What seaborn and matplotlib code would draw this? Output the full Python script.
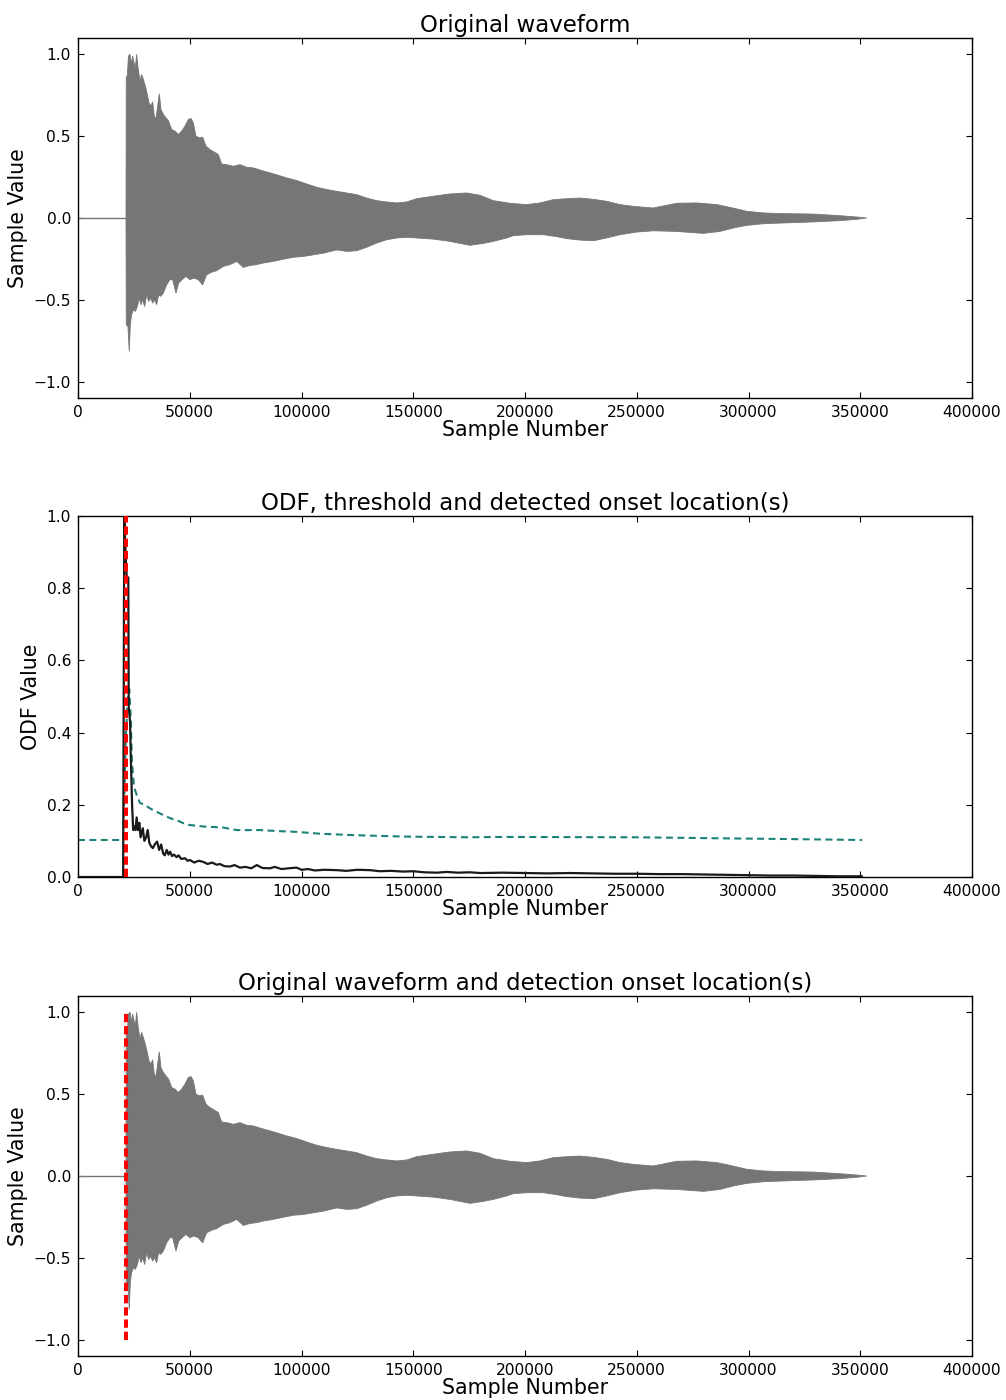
import numpy as np
import matplotlib
matplotlib.use("Agg")
import matplotlib.pyplot as plt
import seaborn as sns

# ---------------- data ----------------
onset_sample = 21500
n_samples = 352900

# upper envelope of the waveform
wave_up_x = [21477, 21600, 22000, 22600, 23266, 23860, 24460, 25050, 25650, 26250,
             26850, 27740, 28490, 29230, 30130, 31020, 31770, 32510, 33400, 34150,
             34900, 35640, 36390, 37130, 38180, 39370, 40560, 41900, 43390, 44880,
             46370, 47860, 49350, 50550, 51590, 52790, 54280, 55770, 57270, 59060,
             60850, 62780, 64270, 66510, 69500, 72480, 75460, 78440, 82170, 85900,
             89630, 93360, 97840, 102310, 106780, 111260, 115740, 120210, 124690, 129160,
             133640, 138110, 142590, 147060, 151530, 158980, 166440, 173900, 179860, 185830,
             193290, 200750, 206710, 212680, 218650, 224610, 230580, 236550, 242520, 248480,
             257430, 267870, 276820, 285770, 291740, 299200, 306660, 314120, 329030, 340960,
             348420, 352900]
wave_up = [0.0, 0.867, 0.857, 0.99, 1.0, 0.94, 0.99, 0.95, 0.918, 1.0,
           0.918, 0.837, 0.877, 0.847, 0.806, 0.755, 0.704, 0.684, 0.71, 0.622,
           0.608, 0.684, 0.759, 0.663, 0.633, 0.612, 0.592, 0.541, 0.531, 0.51,
           0.531, 0.561, 0.602, 0.608, 0.582, 0.5, 0.49, 0.494, 0.439, 0.418,
           0.404, 0.388, 0.33, 0.326, 0.316, 0.326, 0.31, 0.306, 0.29, 0.276,
           0.261, 0.245, 0.229, 0.208, 0.188, 0.174, 0.163, 0.153, 0.143, 0.122,
           0.106, 0.098, 0.092, 0.098, 0.118, 0.133, 0.147, 0.153, 0.139, 0.106,
           0.09, 0.082, 0.092, 0.112, 0.118, 0.122, 0.114, 0.102, 0.082, 0.071,
           0.061, 0.09, 0.092, 0.082, 0.065, 0.041, 0.031, 0.027, 0.024, 0.014,
           0.006, 0.0]

# lower envelope of the waveform
wave_lo_x = [21477, 21600, 22350, 22940, 23400, 23960, 24760, 25650, 26550, 27440,
             28190, 28930, 29830, 30720, 31620, 32510, 33400, 34300, 35190, 36090,
             36980, 38180, 39670, 41160, 42350, 43840, 45040, 46530, 48320, 50110,
             51900, 53840, 55770, 57560, 59800, 62040, 65020, 68000, 70990, 73970,
             76950, 79930, 82920, 87390, 91870, 96340, 100820, 105290, 109770, 115740,
             120210, 124690, 129160, 133640, 138110, 142590, 147060, 151530, 158980, 166440,
             175390, 181350, 185830, 191800, 194780, 200750, 208210, 214170, 218650, 224610,
             230580, 236550, 242520, 249970, 257430, 267870, 279790, 287260, 293220, 299200,
             306660, 314120, 329030, 340960, 348420, 352900]
wave_lo = [0.0, -0.653, -0.663, -0.816, -0.653, -0.592, -0.561, -0.571, -0.541, -0.49,
           -0.53, -0.5, -0.541, -0.469, -0.51, -0.49, -0.52, -0.5, -0.53, -0.469,
           -0.479, -0.459, -0.408, -0.377, -0.377, -0.459, -0.398, -0.377, -0.357, -0.377,
           -0.367, -0.377, -0.408, -0.347, -0.331, -0.322, -0.296, -0.285, -0.265, -0.302,
           -0.29, -0.285, -0.275, -0.265, -0.252, -0.24, -0.235, -0.225, -0.215, -0.195,
           -0.204, -0.2, -0.179, -0.153, -0.133, -0.122, -0.118, -0.122, -0.129, -0.143,
           -0.167, -0.155, -0.143, -0.122, -0.108, -0.102, -0.102, -0.114, -0.126, -0.135,
           -0.139, -0.122, -0.102, -0.086, -0.078, -0.082, -0.094, -0.082, -0.061, -0.045,
           -0.035, -0.031, -0.024, -0.016, -0.008, 0.0]

# onset detection function
odf_x = [0, 20200, 20700, 21400, 21800, 22500, 22700, 23300, 23600, 24200,
         24700, 25100, 25700, 26250, 26800, 27450, 28000, 28980, 29700, 30500,
         31200, 31900, 32700, 33500, 34300, 35400, 36300, 37200, 38100, 38800,
         39700, 40500, 41200, 42100, 43000, 44100, 45000, 46200, 47900, 49000,
         50100, 52000, 54000, 56000, 58000, 60000, 62000, 63500, 65500, 68000,
         70000, 72500, 75000, 77500, 80000, 82500, 85900, 88000, 91000, 94000,
         97800, 100000, 103000, 106000, 110000, 115700, 120000, 125000, 130600, 135000,
         140000, 145500, 150000, 155000, 160500, 165000, 170000, 175400, 180000, 190000,
         200000, 210000, 220000, 230000, 240000, 250000, 260000, 270000, 280000, 290000,
         300000, 310000, 320000, 330000, 340000, 350800]
odf_y = [0.0, 0.0, 1.0, 0.88, 0.83, 0.83, 0.47, 0.43, 0.34, 0.2,
         0.13, 0.14, 0.13, 0.165, 0.13, 0.15, 0.11, 0.135, 0.10, 0.11,
         0.13, 0.095, 0.085, 0.08, 0.09, 0.098, 0.075, 0.09, 0.065, 0.06,
         0.075, 0.062, 0.07, 0.058, 0.062, 0.055, 0.06, 0.05, 0.052, 0.045,
         0.047, 0.04, 0.045, 0.042, 0.036, 0.04, 0.034, 0.036, 0.03, 0.029,
         0.033, 0.026, 0.028, 0.024, 0.033, 0.025, 0.024, 0.028, 0.022, 0.024,
         0.026, 0.02, 0.022, 0.018, 0.02, 0.019, 0.017, 0.02, 0.019, 0.016,
         0.017, 0.015, 0.016, 0.013, 0.012, 0.014, 0.012, 0.013, 0.011, 0.012,
         0.011, 0.010, 0.011, 0.010, 0.009, 0.009, 0.008, 0.008, 0.007, 0.006,
         0.005, 0.004, 0.004, 0.003, 0.002, 0.002]

# adaptive threshold
thr_x = [0, 20300, 20800, 21500, 22300, 22960, 23560, 24160, 25060, 26000,
         27740, 30000, 32210, 36000, 41160, 45000, 48620, 56000, 65000, 71000,
         81400, 90000, 97800, 108000, 123000, 145500, 175000, 190000, 250000, 290000,
         320000, 350800]
thr_y = [0.1025, 0.1025, 0.25, 0.40, 0.50, 0.52, 0.444, 0.315, 0.25, 0.232,
         0.205, 0.20, 0.19, 0.178, 0.163, 0.155, 0.145, 0.14, 0.137, 0.13,
         0.13, 0.127, 0.125, 0.12, 0.116, 0.112, 0.11, 0.111, 0.11, 0.107,
         0.105, 0.1025]

x_ticks = [0, 50000, 100000, 150000, 200000, 250000, 300000, 350000, 400000]
wave_yticks = [-1.0, -0.5, 0.0, 0.5, 1.0]
odf_yticks = [0.0, 0.2, 0.4, 0.6, 0.8, 1.0]

# ---------------- styling ----------------
sns.set_theme(style="white")
plt.rcParams.update({
    "font.family": ["DejaVu Sans"],
    "text.color": "black", "axes.labelcolor": "black", "axes.titlecolor": "black",
    "xtick.direction": "in", "ytick.direction": "in",
    "xtick.top": True, "ytick.right": True,
    "xtick.bottom": True, "ytick.left": True,
    "xtick.major.size": 4, "ytick.major.size": 4,
    "xtick.major.width": 0.8, "ytick.major.width": 0.8,
    "xtick.color": "black", "ytick.color": "black",
    "xtick.labelcolor": "black", "ytick.labelcolor": "black",
    "axes.edgecolor": "black", "axes.linewidth": 1.0,
    "lines.scale_dashes": False,
})

WAVE_COLOR = "#767676"
TEAL = "#1a8279"
TICK_FS = 11.2
LABEL_FS = 14.8
TITLE_FS = 16.5

fig = plt.figure(figsize=(10.06, 14.0), dpi=100)
left, width = 78 / 1006, 894 / 1006


def make_ax(top_px, bottom_px):
    return fig.add_axes([left, 1 - bottom_px / 1400, width, (bottom_px - top_px) / 1400])


ax1 = make_ax(38, 398)
ax2 = make_ax(516, 877)
ax3 = make_ax(996, 1356)


def draw_wave(ax):
    poly_x = list(wave_up_x) + list(wave_lo_x[::-1])
    poly_y = list(wave_up) + list(wave_lo[::-1])
    ax.fill(poly_x, poly_y, color=WAVE_COLOR, lw=0.6, ec=WAVE_COLOR, zorder=2)
    sns.lineplot(x=[0, onset_sample], y=[0.0, 0.0], ax=ax, color=WAVE_COLOR,
                 lw=1.0, estimator=None, sort=False, zorder=2)


def style_ax(ax, yticks, ylim, title, ylabel, yfmt):
    ax.set_xlim(0, 400000)
    ax.set_ylim(*ylim)
    ax.set_xticks(x_ticks)
    ax.set_xticklabels([str(t) for t in x_ticks], fontsize=TICK_FS, color="black")
    ax.set_yticks(yticks)
    ax.set_yticklabels([yfmt(v) for v in yticks], fontsize=TICK_FS, color="black")
    ax.set_title(title, fontsize=TITLE_FS, pad=4, color="black")
    ax.set_xlabel("Sample Number", fontsize=LABEL_FS, labelpad=0, color="black")
    ax.set_ylabel(ylabel, fontsize=LABEL_FS, labelpad=4, color="black")
    ax.tick_params(axis="both", which="major", pad=5)
    for s in ax.spines.values():
        s.set_visible(True)
        s.set_color("black")


def wave_fmt(v):
    return ("\u2212" if v < 0 else "") + f"{abs(v):.1f}"


# Panel 1
draw_wave(ax1)
style_ax(ax1, wave_yticks, (-1.1, 1.1), "Original waveform", "Sample Value", wave_fmt)

# Panel 2
sns.lineplot(x=odf_x, y=odf_y, ax=ax2, color="#1a1a1a", lw=1.6,
             estimator=None, sort=False, zorder=3)
sns.lineplot(x=thr_x, y=thr_y, ax=ax2, color=TEAL, lw=1.5,
             estimator=None, sort=False, zorder=2, dashes=False)
ax2.lines[-1].set_dashes([5.0, 3.2])
ax2.axvline(onset_sample, color="red", lw=2.9, dashes=(6.0, 2.8), zorder=4)
style_ax(ax2, odf_yticks, (0.0, 1.0), "ODF, threshold and detected onset location(s)",
         "ODF Value", lambda v: f"{v:.1f}")

# Panel 3
draw_wave(ax3)
ax3.vlines(onset_sample, -1.0, 1.0, color="red", lw=2.9, linestyles=[(0, (6.0, 2.8))], zorder=4)
style_ax(ax3, wave_yticks, (-1.1, 1.1), "Original waveform and detection onset location(s)",
         "Sample Value", wave_fmt)

for ax in (ax1, ax2, ax3):
    if ax.get_legend() is not None:
        ax.get_legend().remove()

fig.savefig("out.png", dpi=100)
